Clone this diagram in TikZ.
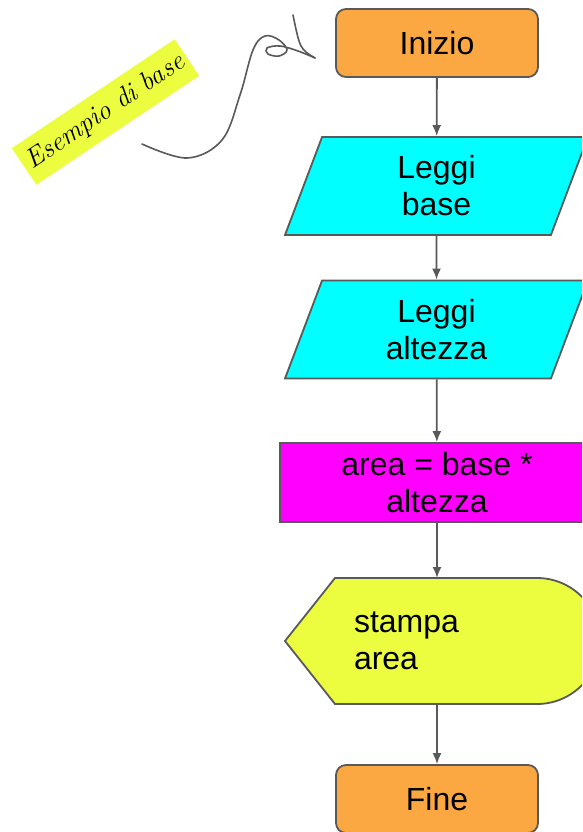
\documentclass[tikz,border=0pt]{standalone}
\usepackage{fontspec}
\setmainfont{Liberation Sans}
\newfontfamily\notefont{Latin Modern Roman}
\usetikzlibrary{shapes.geometric,arrows.meta}

\definecolor{edge}{HTML}{595959}
\definecolor{termcol}{HTML}{FBA843}
\definecolor{iocol}{HTML}{00FFFF}
\definecolor{proccol}{HTML}{FF00FF}
\definecolor{dispcol}{HTML}{ECFD40}

\begin{document}
\begin{tikzpicture}[x=1pt,y=-1pt]
\tikzset{ >={Latex[length=11pt,width=9pt]}, every node/.style={font=\fontsize{32}{37}\selectfont, align=center},
  flow/.style={draw=edge, line width=1.8pt},
  terminal/.style={flow, fill=termcol, rounded corners=10pt, minimum width=202pt, minimum height=68pt},
  inout/.style={flow, fill=iocol, trapezium, trapezium left angle=58.5, trapezium right angle=121.5,
    trapezium stretches body, minimum width=303pt, minimum height=98pt, inner sep=0pt},
  process/.style={flow, fill=proccol, minimum width=314pt, minimum height=79pt, inner sep=0pt},
  arrow/.style={->, draw=edge, line width=1.8pt},
}

\clip (0,0) rectangle (582,832);

%\draw [lightgray, dashed](0,0) grid[step=50] (582,832);

\node [terminal] (inizio) at (437,43)    {Inizio};
\node [inout]    (base)   at (436.5,186) {Leggi\\base};
\node [inout]    (alt)    at (436.5,329.5) {Leggi\\altezza};
\node [process]  (area)   at (437,482.5) {area = base *\\altezza};

% display shape for the output step
\draw [flow, fill=dispcol] (285,641) -- (335,578) -- (537,578)
  arc [start angle=-90, end angle=90, radius=63] -- (335,704) -- cycle;
\node [align=left, text width=176pt, inner sep=0pt] (stampa) at (442,641) {stampa\\area};

\node [terminal] (fine)   at (437,799)   {Fine};

\draw [arrow] (inizio) -- (base);
\draw [arrow] (base)   -- (alt);
\draw [arrow] (alt)    -- (area);
\draw [arrow] (area.south) -- (437,578);
\draw [arrow] (437,704) -- (fine);

% note with hand drawn pointer
\node [fill=dispcol, rotate=33.8, minimum width=196pt, minimum height=44pt, inner sep=0pt,
       font=\notefont\itshape\fontsize{27}{29}\selectfont] (nota) at (105.5,112) {Esempio di base};

\draw [edge, line width=1.6pt, line cap=round, line join=round]
  plot [smooth, tension=0.6] coordinates {(142,144) (187,158) (222,140) (240,95) (253,50) (265,36)
    (279,40) (287,50) (279,56) (268,54) (267,48) (280,46) (298,51) (315,58)};
\draw [edge, line width=1.6pt, line cap=round]
  (315,58) .. controls (300,49) .. (293,15);

\end{tikzpicture}
\end{document}
